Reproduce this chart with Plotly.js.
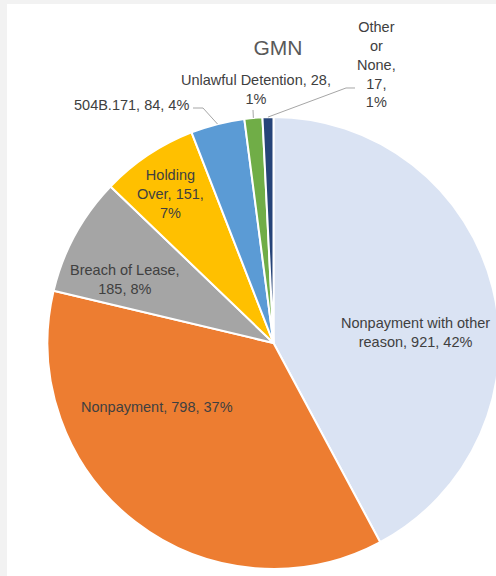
<!DOCTYPE html>
<html>
<head>
<meta charset="utf-8">
<script src="https://cdn.plot.ly/plotly-3.0.1.min.js"></script>
<style>
html, body { margin:0; padding:0; overflow:hidden; background:#f2f2f2; width:496px; height:576px; }
#chart { position:absolute; left:7px; top:4px; width:500px; height:572px; background:#fff; }
</style>
</head>
<body>
<div id="chart"></div>
<script>
// ---- data ----
const categories = ["Nonpayment with other reason", "Nonpayment", "Breach of Lease", "Holding Over", "504B.171", "Unlawful Detention", "Other or None"];
const counts = [921, 798, 185, 151, 84, 28, 17];
const percents = [42, 37, 8, 7, 4, 1, 1];
const labelText = [
  "Nonpayment with other<br>reason, 921, 42%",
  "Nonpayment, 798, 37%",
  "Breach of Lease,<br>185, 8%",
  "Holding<br>Over, 151,<br>7%",
  "504B.171, 84, 4%",
  "Unlawful Detention, 28,<br>1%",
  "Other<br>or<br>None,<br>17,<br>1%"
];
const colors = ["#DAE3F3", "#ED7D31", "#A5A5A5", "#FFC000", "#5B9BD5", "#70AD47", "#264478"];

// ---- layout helpers (image pixel -> paper) ----
const W = 500, H = 572, OX = 7, OY = 4;
const px = X => (X - OX) / W;
const py = Y => 1 - (Y - OY) / H;
const CX = 273.5, CY = 343, R = 226;

// label centre positions (image px)
const labelPos = [[415, 332], [157, 407], [125, 279], [170, 194], [131, 105], [256, 90], [376, 64]];

// slice mid-angle edge points computed from data
const total = counts.reduce((a, b) => a + b, 0);
let cum = 0;
const edgePts = counts.map(v => {
  const mid = (cum + v / 2) / total * 2 * Math.PI;
  cum += v;
  return [CX + R * Math.sin(mid), CY - R * Math.cos(mid)];
});

const annotations = categories.map((c, i) => ({
  x: px(labelPos[i][0]), y: py(labelPos[i][1]), xref: 'paper', yref: 'paper',
  xanchor: 'center', yanchor: 'middle', showarrow: false, align: 'center',
  text: labelText[i],
  font: { family: 'Liberation Sans, Arial, sans-serif', size: 14.5, color: '#404040' }
}));

function pathOf(pts) {
  return pts.map((p, k) => (k ? 'L' : 'M') + px(p[0]).toFixed(5) + ',' + py(p[1]).toFixed(5)).join(' ');
}
const lineStyle = { color: '#a6a6a6', width: 1 };
const shapes = [
  { type: 'path', xref: 'paper', yref: 'paper', path: pathOf([[193, 108], [203, 108], edgePts[4]]), line: lineStyle },
  { type: 'path', xref: 'paper', yref: 'paper', path: pathOf([[253, 110], edgePts[5]]), line: lineStyle },
  { type: 'path', xref: 'paper', yref: 'paper', path: pathOf([[355, 88], [346, 88], edgePts[6]]), line: lineStyle }
];

const trace = {
  type: 'pie',
  labels: categories,
  values: counts,
  sort: false,
  direction: 'clockwise',
  rotation: 0,
  textinfo: 'none',
  hoverinfo: 'label+value+percent',
  marker: { colors: colors, line: { color: '#ffffff', width: 2 } },
  domain: { x: [(CX - OX - R) / W, (CX - OX + R) / W], y: [(H - (CY - OY) - R) / H, (H - (CY - OY) + R) / H] }
};

const layout = {
  width: W, height: H,
  margin: { l: 0, r: 0, t: 0, b: 0 },
  paper_bgcolor: '#ffffff',
  showlegend: false,
  title: { text: 'GMN', x: px(278), xanchor: 'center', y: py(48), yanchor: 'middle',
           font: { family: 'Liberation Sans, Arial, sans-serif', size: 21, color: '#595959' } },
  annotations: annotations,
  shapes: shapes
};

Plotly.newPlot('chart', [trace], layout, { displayModeBar: false, staticPlot: true });
</script>
</body>
</html>
